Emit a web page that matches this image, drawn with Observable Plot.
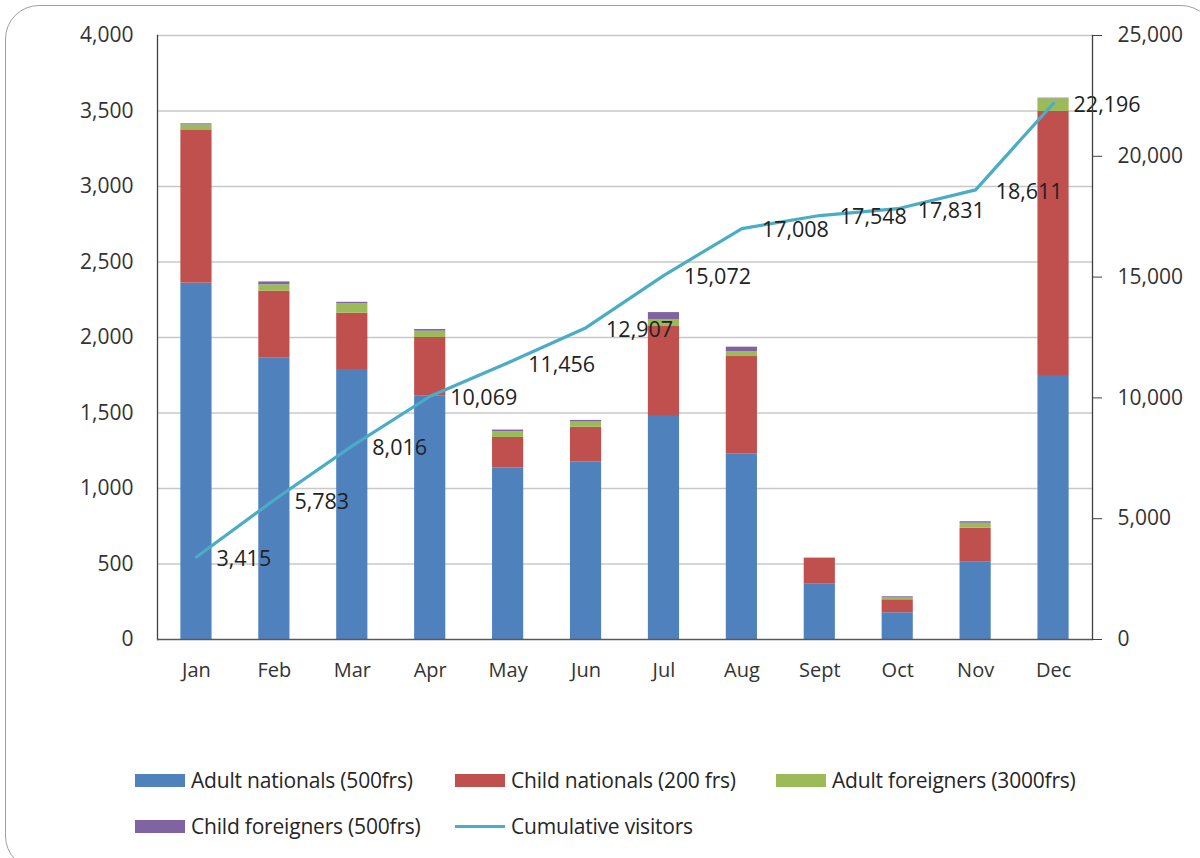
<!DOCTYPE html>
<html>
<head>
<meta charset="utf-8">
<script src="https://cdn.jsdelivr.net/npm/d3@7"></script>
<script src="https://cdn.jsdelivr.net/npm/@observablehq/plot@0.6"></script>
<style>
  html, body { margin: 0; padding: 0; background: #fff; width: 1200px; height: 858px; overflow: hidden; }
  #frame { position: absolute; left: 5px; top: 5px; width: 1210px; height: 865px; border: 1.5px solid #a0a0a0; border-radius: 34px; box-sizing: border-box; }
  #chart { position: absolute; left: 0; top: 0; }
  #legend { position: absolute; left: 135px; top: 768px; font-family: "Open Sans", sans-serif; font-size: 21px; letter-spacing: -0.2px; color: #262626; display: grid; grid-template-columns: 320px 321px 320px; row-gap: 22px; }
  .item { display: flex; align-items: center; height: 24px; white-space: nowrap; }
  .sw { width: 50px; height: 13px; margin-right: 6px; flex: none; }
  .ln { width: 50px; height: 3px; margin-right: 6px; flex: none; }
</style>
</head>
<body>
<div id="frame"></div>
<div id="chart"></div>
<div id="legend"></div>
<script>
const months = ["Jan","Feb","Mar","Apr","May","Jun","Jul","Aug","Sept","Oct","Nov","Dec"];
const adultNationals  = [2360,1866,1788,1611,1137,1177,1477,1230,366,177,515,1742];
const childNationals  = [1015,441,373,389,201,229,600,644,172,86,222,1755];
const adultForeigners = [33,42,62,42,38,34,42,31,1,12,33,84];
const childForeigners = [7,19,10,11,11,11,46,31,1,8,10,4];
const cumulative = [3415,5783,8016,10069,11456,12907,15072,17008,17548,17831,18611,22196];

const seriesNames = ["Adult nationals (500frs)","Child nationals (200 frs)","Adult foreigners (3000frs)","Child foreigners (500frs)"];
const seriesColors = ["#4f81bd","#c0504d","#9bbb59","#8064a2"];
const lineName = "Cumulative visitors";
const lineColor = "#4bacc6";
const leftTicks = [0,500,1000,1500,2000,2500,3000,3500,4000];
const rightTicks = [0,5000,10000,15000,20000,25000];
const leftMax = 4000, rightMax = 25000;
const ratio = rightMax / leftMax;

const seriesValues = [adultNationals, childNationals, adultForeigners, childForeigners];
const long = [];
seriesNames.forEach((s, si) => months.forEach((m, mi) => long.push({month: m, series: s, value: seriesValues[si][mi]})));
const cum = months.map((m, i) => ({month: m, value: cumulative[i]}));

const font = "Open Sans, sans-serif";
const chart = Plot.plot({
  width: 1200,
  height: 700,
  marginLeft: 157,
  marginRight: 108,
  marginTop: 35,
  marginBottom: 61,
  style: {fontFamily: font, fontSize: "21px", color: "#333", background: "transparent"},
  x: {domain: months, paddingInner: 0.6, paddingOuter: 0.3, round: false, label: null},
  y: {domain: [0, leftMax], label: null},
  color: {domain: seriesNames, range: seriesColors},
  marks: [
    Plot.gridY(leftTicks.slice(1), {stroke: "#c8c8c8", strokeOpacity: 1, strokeWidth: 1.3}),
    Plot.barY(long, Plot.stackY({order: seriesNames}, {x: "month", y: "value", fill: "series"})),
    Plot.line(cum, {x: "month", y: d => d.value / ratio, stroke: lineColor, strokeWidth: 3.2}),
    Plot.text(cum, {x: "month", y: d => d.value / ratio, text: d => d3.format(",")(d.value), dx: 20, dy: 2, textAnchor: "start", fontSize: 21.5, fill: "#222"}),
    Plot.axisY(leftTicks, {anchor: "left", tickSize: 0, tickPadding: 24, tickFormat: d3.format(","), fontSize: 21, fill: "#333"}),
    Plot.axisY(rightTicks.map(v => v / ratio), {anchor: "right", tickSize: 9, tickPadding: 16, stroke: "#404040", tickFormat: d => d3.format(",")(Math.round(d * ratio)), fontSize: 21, fill: "#333"}),
    Plot.axisX({anchor: "bottom", tickSize: 0, tickPadding: 23, fontSize: 20, fill: "#333"}),
    Plot.frame({anchor: "left", stroke: "#404040", strokeWidth: 1.3}),
    Plot.frame({anchor: "right", stroke: "#404040", strokeWidth: 1.3}),
    Plot.ruleY([0], {stroke: "#595959", strokeWidth: 1.5})
  ]
});
document.getElementById("chart").appendChild(chart);

const legend = document.getElementById("legend");
seriesNames.forEach((s, i) => {
  const it = document.createElement("div"); it.className = "item";
  it.innerHTML = `<span class="sw" style="background:${seriesColors[i]}"></span><span>${s}</span>`;
  legend.appendChild(it);
});
const li = document.createElement("div"); li.className = "item";
li.innerHTML = `<span class="ln" style="background:${lineColor}"></span><span>${lineName}</span>`;
legend.appendChild(li);
</script>
</body>
</html>
